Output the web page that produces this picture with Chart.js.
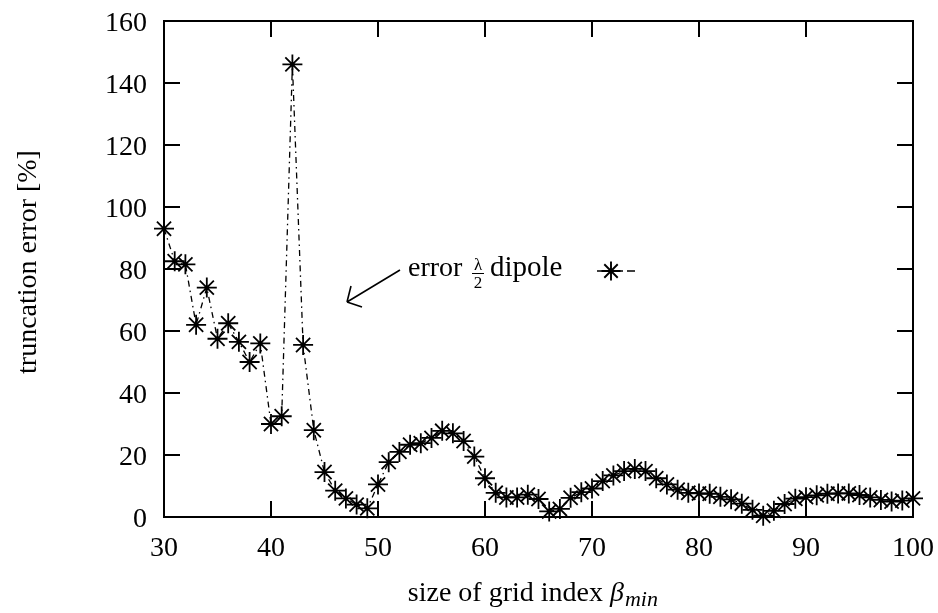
<!DOCTYPE html>
<html lang="en">
<head>
    <meta charset="UTF-8">
    <title>truncation error vs grid index</title>
    <script src="https://cdn.jsdelivr.net/npm/chart.js"></script>
    <style>
        html, body { margin: 0; padding: 0; background: #fff; }
        canvas { display: block; }
    </style>
</head>
<body>
    <canvas id="errChart" width="938" height="613"></canvas>
    <script>
        // grid index beta_min and truncation error [%] of the lambda/2 dipole
        const gridIndex = [30, 31, 32, 33, 34, 35, 36, 37, 38, 39,
                           40, 41, 42, 43, 44, 45, 46, 47, 48, 49,
                           50, 51, 52, 53, 54, 55, 56, 57, 58, 59,
                           60, 61, 62, 63, 64, 65, 66, 67, 68, 69,
                           70, 71, 72, 73, 74, 75, 76, 77, 78, 79,
                           80, 81, 82, 83, 84, 85, 86, 87, 88, 89,
                           90, 91, 92, 93, 94, 95, 96, 97, 98, 99, 100];
        const truncError = [93, 82.5, 81.5, 62, 74, 57.5, 62.5, 56.5, 50, 56,
                            30, 32.5, 146, 55.5, 28, 14.5, 8.5, 6, 4, 2.8,
                            10.5, 17.7, 21, 23.3, 23.8, 25.5, 27.8, 27, 24.5, 19.5,
                            12.5, 7.8, 6.3, 6.3, 7.2, 5.8, 1.8, 2.6, 6.2, 8,
                            9.2, 11.6, 13.4, 14.8, 15.5, 14.8, 12.5, 10.5, 8.8, 7.8,
                            7.6, 7.5, 6.5, 5.7, 4.3, 2.3, 0.4, 2, 4.2, 5.9,
                            6.4, 7, 7.5, 7.6, 7.6, 7.1, 6.3, 5.5, 5, 5.3, 6];
        const xTicks = [30, 40, 50, 60, 70, 80, 90, 100];
        const yTicks = [0, 20, 40, 60, 80, 100, 120, 140, 160];

        const SERIF = "'Liberation Serif', 'DejaVu Serif', serif";
        const TICK_LEN = 16;

        function drawStar(ctx, x, y, r) {
            const d = r * Math.SQRT1_2;
            ctx.beginPath();
            ctx.moveTo(x - r, y); ctx.lineTo(x + r, y);
            ctx.moveTo(x, y - r); ctx.lineTo(x, y + r);
            ctx.moveTo(x - d, y - d); ctx.lineTo(x + d, y + d);
            ctx.moveTo(x - d, y + d); ctx.lineTo(x + d, y - d);
            ctx.stroke();
        }

        // box, inward ticks and tick labels, axis titles, key and arrow
        const framePlugin = {
            id: 'frame',
            afterDraw(chart) {
                const ctx = chart.ctx;
                const a = chart.chartArea;
                const xs = chart.scales.x, ys = chart.scales.y;
                ctx.save();
                ctx.strokeStyle = '#000';
                ctx.fillStyle = '#000';
                ctx.lineWidth = 2;
                ctx.strokeRect(a.left, a.top, a.right - a.left, a.bottom - a.top);

                ctx.font = '28px ' + SERIF;
                ctx.textBaseline = 'alphabetic';
                ctx.beginPath();
                xTicks.forEach(v => {
                    const px = Math.round(xs.getPixelForValue(v));
                    ctx.moveTo(px, a.bottom); ctx.lineTo(px, a.bottom - TICK_LEN);
                    ctx.moveTo(px, a.top); ctx.lineTo(px, a.top + TICK_LEN);
                    ctx.textAlign = 'center';
                    ctx.fillText(String(v), px, a.bottom + 39);
                });
                yTicks.forEach(v => {
                    const py = Math.round(ys.getPixelForValue(v));
                    ctx.moveTo(a.left, py); ctx.lineTo(a.left + TICK_LEN, py);
                    ctx.moveTo(a.right, py); ctx.lineTo(a.right - TICK_LEN, py);
                    ctx.textAlign = 'right';
                    ctx.fillText(String(v), a.left - 17, py + 9.5);
                });
                ctx.stroke();

                // y title
                ctx.save();
                ctx.translate(36, 262);
                ctx.rotate(-Math.PI / 2);
                ctx.font = '28px ' + SERIF;
                ctx.textAlign = 'center';
                ctx.fillText('truncation error [%]', 0, 0);
                ctx.restore();

                // x title with beta_min
                ctx.textAlign = 'left';
                const part1 = 'size of grid index ';
                ctx.font = '28px ' + SERIF;
                const w1 = ctx.measureText(part1).width;
                ctx.font = 'italic 28px ' + SERIF;
                const wb = ctx.measureText('\u03B2').width;
                let tx = 610 - w1;
                const tb = 601;
                ctx.font = '28px ' + SERIF;
                ctx.fillText(part1, tx, tb);
                tx += w1;
                ctx.font = 'italic 28px ' + SERIF;
                ctx.fillText('\u03B2', tx, tb);
                tx += wb + 1;
                ctx.font = 'italic 22px ' + SERIF;
                ctx.fillText('min', tx, tb + 5);

                // key: error lambda/2 dipole
                const kb = 276;
                ctx.font = '28px ' + SERIF;
                ctx.fillText('error', 408, kb);
                const kx = 472, fw = 12;
                ctx.font = '17px ' + SERIF;
                ctx.textAlign = 'center';
                ctx.fillText('\u03BB', kx + fw / 2, kb - 6);
                ctx.fillText('2', kx + fw / 2, kb + 12);
                ctx.lineWidth = 1;
                ctx.beginPath();
                ctx.moveTo(kx, kb - 2.5); ctx.lineTo(kx + fw, kb - 2.5);
                ctx.stroke();
                ctx.textAlign = 'left';
                ctx.font = '29px ' + SERIF;
                ctx.fillText('dipole', 490, kb);

                // key sample: dash-dot line with star
                const sy = 271;
                ctx.lineWidth = 1.6;
                ctx.beginPath();
                ctx.moveTo(597, sy); ctx.lineTo(623, sy);
                ctx.moveTo(627, sy); ctx.lineTo(635, sy);
                ctx.stroke();
                ctx.lineWidth = 1.9;
                drawStar(ctx, 611, sy, 9.5);

                // arrow pointing to the curve
                ctx.lineWidth = 1.6;
                ctx.beginPath();
                ctx.moveTo(400, 270); ctx.lineTo(347, 302);
                ctx.moveTo(347, 302); ctx.lineTo(351, 286);
                ctx.moveTo(347, 302); ctx.lineTo(362, 307);
                ctx.stroke();
                ctx.restore();
            }
        };

        const ctx = document.getElementById('errChart').getContext('2d');
        const errChart = new Chart(ctx, {
            type: 'line',
            data: {
                datasets: [{
                    label: 'error lambda/2 dipole',
                    data: gridIndex.map((g, i) => ({ x: g, y: truncError[i] })),
                    borderColor: '#000',
                    backgroundColor: '#000',
                    borderWidth: 1.3,
                    borderDash: [6, 4, 1.5, 4],
                    pointStyle: 'star',
                    pointRadius: 10,
                    pointBorderWidth: 1.8,
                    pointBorderColor: '#000',
                    fill: false,
                    tension: 0,
                    clip: false
                }]
            },
            options: {
                responsive: false,
                animation: false,
                devicePixelRatio: 1,
                events: [],
                layout: { padding: { left: 0, right: 25, top: 21, bottom: 0 } },
                plugins: {
                    legend: { display: false },
                    tooltip: { enabled: false }
                },
                scales: {
                    x: {
                        type: 'linear',
                        min: 30, max: 100,
                        afterFit: s => { s.height = 96; },
                        afterBuildTicks: s => { s.ticks = xTicks.map(v => ({ value: v })); },
                        grid: { display: false, drawTicks: false },
                        border: { display: false },
                        ticks: { display: false }
                    },
                    y: {
                        type: 'linear',
                        min: 0, max: 160,
                        afterFit: s => { s.width = 164; },
                        afterBuildTicks: s => { s.ticks = yTicks.map(v => ({ value: v })); },
                        grid: { display: false, drawTicks: false },
                        border: { display: false },
                        ticks: { display: false }
                    }
                }
            },
            plugins: [framePlugin]
        });
    </script>
</body>
</html>
